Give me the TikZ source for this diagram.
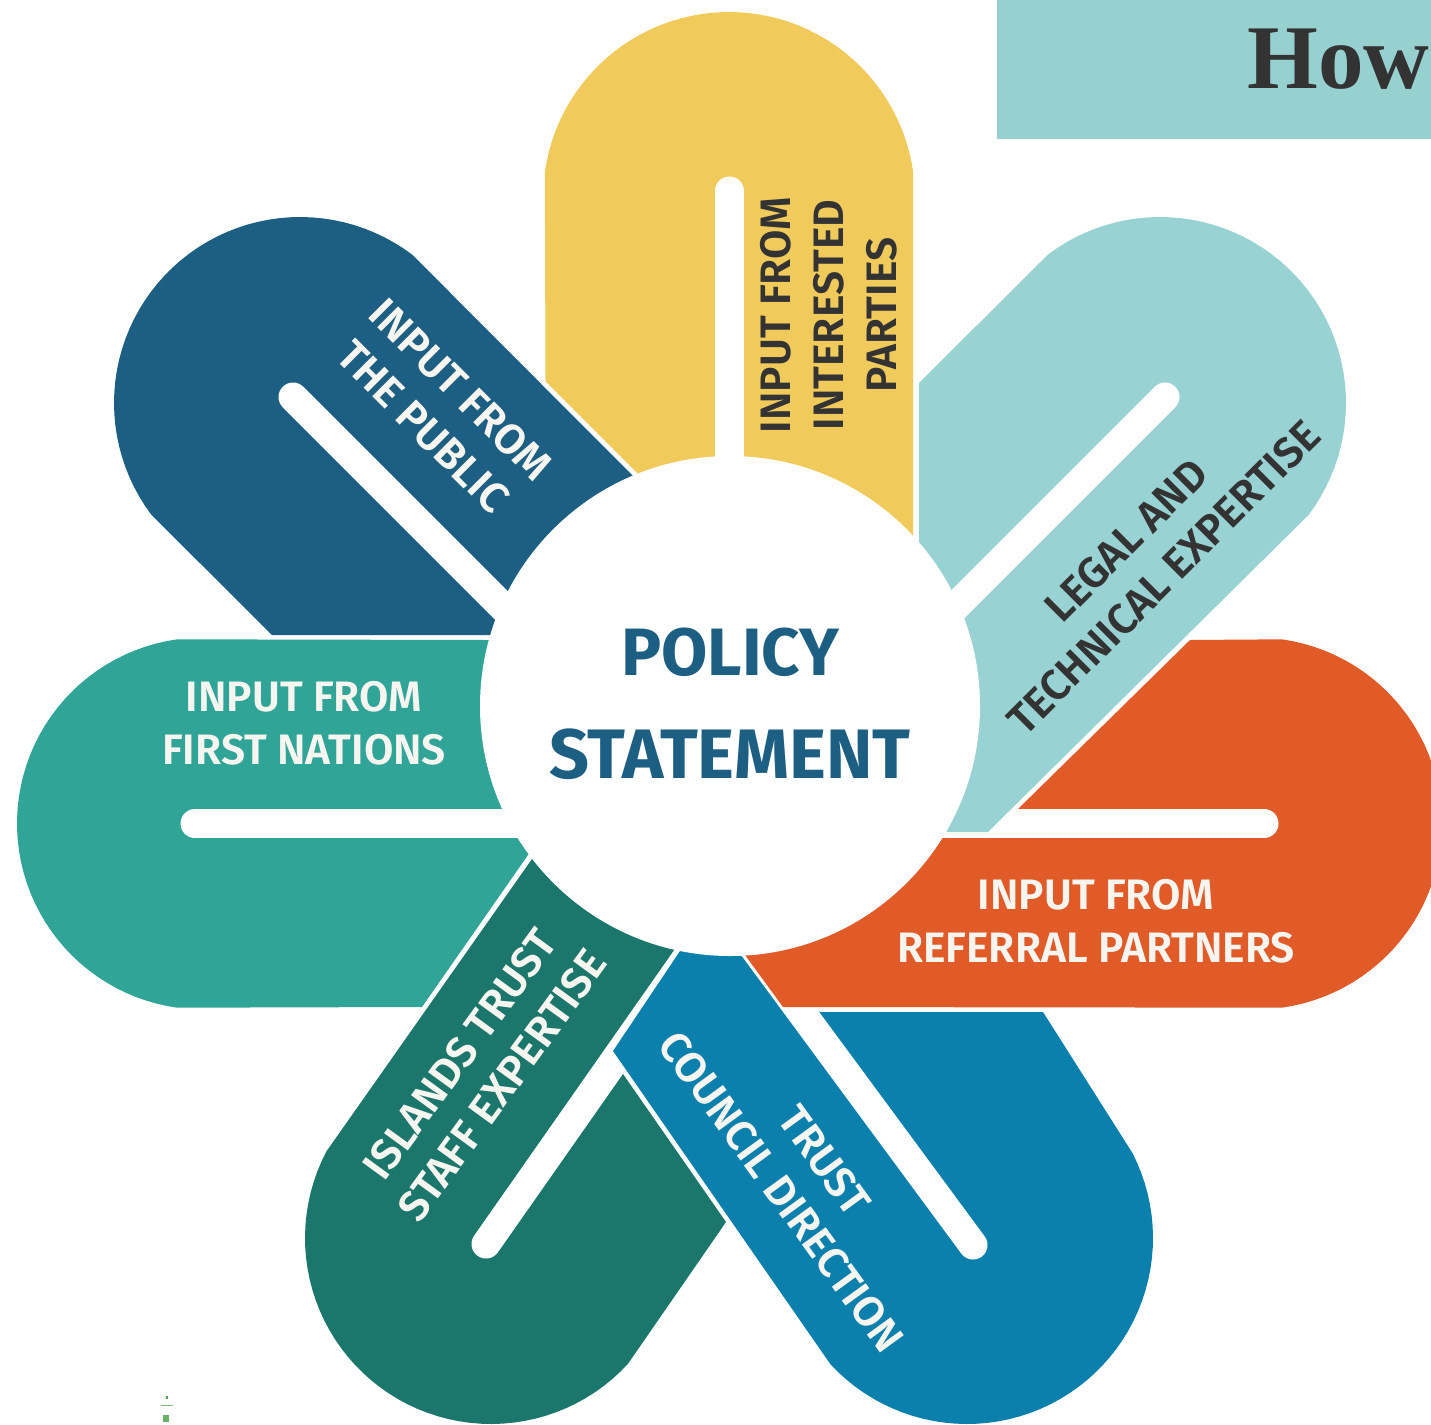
\documentclass[tikz,border=0pt]{standalone}
\usepackage{fontspec}
\setmainfont{Fira Sans}[UprightFont=* Medium,BoldFont=* SemiBold]
\newfontfamily\hubfont{Fira Sans}[UprightFont=* Bold]
\newfontfamily\headfont{Liberation Serif}
\definecolor{cyellow}{HTML}{F0CA5A}
\definecolor{cteal}{HTML}{99D2D2}
\definecolor{chead}{HTML}{96D1D0}
\definecolor{corange}{HTML}{E05B27}
\definecolor{cnavy}{HTML}{1D5F82}
\definecolor{cgreen}{HTML}{2FA497}
\definecolor{cdeep}{HTML}{1B766B}
\definecolor{cblue}{HTML}{0C80AD}
\definecolor{cink}{HTML}{333333}
\definecolor{cpaper}{HTML}{F7F5F0}
\tikzset{
  slotline/.style={draw=white,line width=29pt,line cap=round},
  label/.style={align=center,font=\bfseries\fontsize{42.6}{53}\selectfont,inner sep=0pt},
  lightlabel/.style={label,text=cpaper},
  darklabel/.style={label,text=cink}
}
\begin{document}
\begin{tikzpicture}[x=1pt,y=-1pt]
\clip (0,0) rectangle (1431,1424);
% header
\fill[chead] (997,0) rectangle (1431,138.5);
\node[anchor=base west,inner sep=0pt,text=cink,font=\headfont\bfseries\fontsize{91}{91}\selectfont] (how) at (1247,88) {How};
% yellow
\fill[cyellow] plot[domain=-8:-172,samples=50] ({729+186*cos(\x)},{198+186*sin(\x)}) -- (545.5,381.5) -- (637,473) -- (680,520) -- (913,600) -- cycle;
\draw[slotline] (729.5,191) -- (729.5,520);
% navy
\fill[cnavy] plot[domain=-52.8:-216.9,samples=50] ({300+186*cos(\x)},{403+186*sin(\x)}) -- (272,635) -- (490,635) -- (600,640) -- (680,523) -- (632,475) -- cycle;
\draw[slotline] (293,397) -- (540,644);
% left green
\fill[cgreen] plot[domain=98:262,samples=50] ({203+186*cos(\x)},{823.5+186*sin(\x)}) -- (489,640) -- (600,750) -- (528,855) -- (422,1007) -- cycle;
\draw[slotline] (195,823.5) -- (560,823.5);
% deep green
\fill[cdeep] plot[domain=42.6:207.7,samples=50] ({491+186*cos(\x)},{1238+186*sin(\x)}) -- (532,859) -- (600,860) -- (675,950) -- (649,1012) -- (623,1074) -- (726,1222) -- cycle;
\draw[slotline] (486,1244) -- (706,930);
% blue
\fill[cblue] plot[domain=137.2:-27.2,samples=50] ({967+186*cos(\x)},{1238+186*sin(\x)}) -- (1043,1012) -- (820,1012) -- (790,995) -- (740,955) -- (710,900) -- (680,951) -- (613,1051) -- cycle;
\draw[slotline] (973,1245) -- (720,902);
% orange
\fill[corange] plot[domain=-82:82,samples=50] ({1256+186*cos(\x)},{823.5+186*sin(\x)}) -- (783,1007) -- (745,955) -- (720,900) -- (900,823) -- (1018,823) -- (1018,809) -- (1190,640) -- cycle;
\draw[slotline] (1264,823.5) -- (900,823.5);
% light teal
\fill[cteal] plot[domain=-127:37,samples=50] ({1160+186*cos(\x)},{403+186*sin(\x)}) -- (988,832) -- (947,832) -- (850,700) -- (919,560) -- (919,383) -- cycle;
\draw[slotline] (1165,397) -- (898,664);
% hub
\fill[white] (730,706) circle[radius=250];
\node[inner sep=0pt,text=cnavy,font=\hubfont\fontsize{67}{67}\selectfont] (hubtop) at (730,652) {POLICY};
\node[inner sep=0pt,text=cnavy,font=\hubfont\fontsize{70}{70}\selectfont] (hubbot) at (730,754) {STATEMENT};
% labels
\node[darklabel,rotate=90] (lyellow) at (829,315) {INPUT FROM\\INTERESTED\\PARTIES};
\node[lightlabel,rotate=-45] (lnavy) at (442,408) {INPUT FROM\\THE PUBLIC};
\node[darklabel,rotate=45] (lteal) at (1145,559) {LEGAL AND\\TECHNICAL EXPERTISE};
\node[lightlabel] (lgreen) at (304,723) {INPUT FROM\\FIRST NATIONS};
\node[lightlabel] (lorange) at (1096,921) {INPUT FROM\\REFERRAL PARTNERS};
\node[lightlabel,rotate=-54] (lblue) at (803,1176) {TRUST\\COUNCIL DIRECTION};
\node[lightlabel,rotate=54] (ldeep) at (481,1070) {ISLANDS TRUST\\STAFF EXPERTISE};
% specks
\fill[green!50!black!70] (165.5,1396) rectangle (168,1398.5);
\fill[green!50!black!50] (161,1404.5) rectangle (173,1406);
\fill[green!50!black!60] (163,1415) rectangle (169,1422);
\end{tikzpicture}
\end{document}
